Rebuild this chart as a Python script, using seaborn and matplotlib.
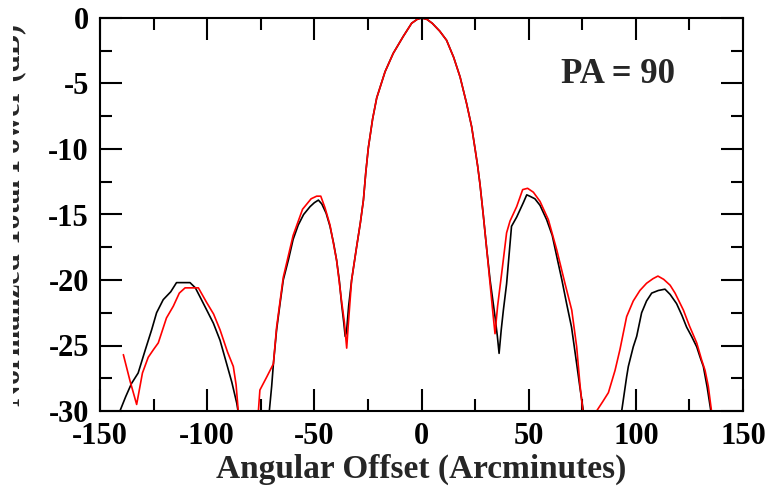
import matplotlib
matplotlib.use("Agg")
import matplotlib.pyplot as plt
import numpy as np
import pandas as pd
import seaborn as sns
from matplotlib.ticker import MultipleLocator
from matplotlib.transforms import Bbox, TransformedBbox

# black trace, three visible pieces (clipped at -30 dB in between)
black_left_x = [-140.7, -138.0, -135.3, -132.2, -129.0, -125.9, -123.6, -120.5, -117.0, -114.3, -111.0,
                -108.0, -105.5, -103.3, -100.5, -97.1, -94.0, -90.9, -88.5, -86.2, -85.6]
black_left_y = [-30.0, -28.9, -27.9, -27.1, -25.4, -23.8, -22.5, -21.5, -20.9, -20.2, -20.2,
                -20.2, -20.6, -21.3, -22.2, -23.3, -24.6, -26.4, -27.8, -29.4, -30.0]
black_mid_x = [-71.0, -69.9, -69.1, -67.6, -66.0, -64.5, -62.0, -59.9, -57.5, -55.0, -52.0, -50.0, -48.1,
               -46.5, -44.5, -42.7, -41.0, -39.6, -38.3, -37.3, -36.3, -35.6, -35.0, -34.0, -32.6, -30.3,
               -28.5, -27.1, -26.0, -24.8, -22.8, -20.9, -17.0, -13.2, -8.5, -4.6, -2.0, 0.0, 2.5, 5.0,
               8.5, 11.7, 15.0, 18.0, 21.0, 23.4, 25.0, 26.2, 27.3, 28.8, 30.4, 32.0, 34.3, 35.4, 36.2,
               37.2, 38.2, 39.7, 42.0, 44.4, 47.5, 49.1, 50.5, 52.9, 55.3, 58.4, 61.0, 63.1, 65.5, 67.7,
               70.0, 72.4, 74.0, 75.5]
black_mid_y = [-30.0, -28.1, -26.4, -23.8, -21.8, -20.0, -18.4, -16.9, -15.8, -15.0, -14.4, -14.1, -13.9,
               -14.2, -14.9, -15.9, -17.2, -18.5, -20.1, -21.8, -23.2, -24.3, -24.0, -22.0, -20.0, -17.5,
               -15.6, -13.9, -11.8, -9.9, -7.7, -6.1, -4.1, -2.7, -1.4, -0.4, -0.1, 0.0, -0.1, -0.4,
               -1.0, -1.7, -3.0, -4.5, -6.5, -8.3, -10.0, -11.3, -12.7, -15.0, -17.6, -20.0, -22.8, -24.3,
               -25.6, -23.8, -22.3, -20.3, -15.9, -15.2, -14.1, -13.5, -13.6, -13.8, -14.3, -15.4, -16.6,
               -18.2, -20.0, -21.8, -23.6, -26.4, -28.3, -30.0]
black_right_x = [93.4, 95.7, 96.5, 98.8, 100.4, 102.7, 105.0, 107.4, 110.5, 113.6, 116.0, 119.0, 121.5,
                 123.7, 126.0, 128.4, 130.0, 131.5, 133.3, 135.0]
black_right_y = [-30.0, -27.4, -26.6, -25.1, -24.3, -22.5, -21.6, -21.0, -20.8, -20.7, -21.1, -21.8, -22.7,
                 -23.6, -24.3, -25.1, -25.9, -26.6, -28.2, -30.0]

# red trace
red_left_x = [-139.1, -136.0, -132.9, -130.2, -127.5, -125.0, -122.8, -119.0, -115.8, -113.0, -110.3,
              -107.2, -104.1, -100.3, -97.0, -94.0, -90.5, -87.8, -86.5, -85.5]
red_left_y = [-25.7, -27.7, -29.5, -27.1, -25.9, -25.3, -24.8, -22.9, -22.0, -21.0, -20.6,
              -20.6, -20.6, -21.7, -22.6, -23.8, -25.5, -26.6, -28.0, -30.0]
red_mid_x = [-76.1, -75.4, -72.2, -69.1, -67.6, -64.5, -59.9, -55.5, -51.5, -48.9, -47.0, -45.0, -42.7,
             -39.6, -37.3, -36.0, -34.9, -34.2, -32.6, -30.3, -28.5, -27.1, -26.0, -24.8, -22.8, -20.9,
             -17.0, -13.2, -8.5, -4.6, -2.0, 0.0, 2.5, 5.0, 8.5, 11.7, 15.0, 18.0, 21.0, 23.4, 25.0,
             26.2, 27.3, 28.8, 30.4, 32.0, 33.3, 34.3, 35.5, 37.4, 39.7, 41.3, 44.4, 47.2, 49.5, 52.2,
             55.3, 59.2, 63.1, 67.0, 70.1, 72.4, 74.0, 75.3]
red_mid_y = [-30.0, -28.4, -27.4, -26.4, -23.6, -19.8, -16.6, -14.6, -13.8, -13.6, -13.6, -14.5, -15.8,
             -18.5, -21.6, -23.2, -25.2, -23.5, -20.0, -17.5, -15.6, -13.9, -11.8, -9.9, -7.7, -6.1,
             -4.1, -2.7, -1.4, -0.4, -0.1, 0.0, -0.1, -0.4, -1.0, -1.7, -3.0, -4.5, -6.5, -8.3, -10.0,
             -11.3, -12.7, -15.0, -17.6, -20.3, -22.5, -24.1, -22.0, -19.5, -16.4, -15.5, -14.4, -13.1,
             -13.0, -13.3, -14.0, -15.4, -17.7, -20.3, -22.3, -25.1, -28.1, -30.0]
red_right_x = [81.7, 84.5, 87.2, 90.3, 92.6, 95.7, 98.8, 101.9, 105.0, 108.0, 110.3, 113.0, 116.0, 118.3,
               122.2, 125.0, 128.4, 130.7, 132.3, 133.8, 135.3]
red_right_y = [-30.0, -29.3, -28.6, -26.9, -25.3, -22.8, -21.6, -20.8, -20.25, -19.9, -19.7, -19.95, -20.4,
               -21.0, -22.3, -23.5, -24.8, -26.1, -26.9, -28.1, -30.0]

pieces = [
    ("black", "b0", black_left_x, black_left_y),
    ("black", "b1", black_mid_x, black_mid_y),
    ("black", "b2", black_right_x, black_right_y),
    ("red", "r0", red_left_x, red_left_y),
    ("red", "r1", red_mid_x, red_mid_y),
    ("red", "r2", red_right_x, red_right_y),
]
df = pd.concat([pd.DataFrame({"offset": x, "power": y, "trace": name, "piece": seg})
                for name, seg, x, y in pieces], ignore_index=True)

sns.set_style("ticks")
plt.rcParams["font.family"] = ["Liberation Serif", "DejaVu Serif"]
plt.rcParams["font.weight"] = "bold"
plt.rcParams["axes.unicode_minus"] = False

fig = plt.figure(figsize=(7.73, 4.91), dpi=100)
ax = fig.add_axes([100 / 773, 80 / 491, 643 / 773, 393 / 491])

sns.lineplot(data=df, x="offset", y="power", hue="trace", units="piece", estimator=None,
             palette={"black": "#000000", "red": "#ff0000"}, linewidth=1.2, sort=False,
             legend=False, ax=ax)

ax.set_xlim(-150, 150)
ax.set_ylim(-30, 0)
ax.xaxis.set_major_locator(MultipleLocator(50))
ax.xaxis.set_minor_locator(MultipleLocator(25))
ax.yaxis.set_major_locator(MultipleLocator(5))
ax.yaxis.set_minor_locator(MultipleLocator(2.5))
ax.tick_params(which="both", direction="in", top=True, right=True, width=1.5, colors="black")
ax.tick_params(which="major", length=16, labelsize=22, pad=8)
ax.tick_params(which="minor", length=8.5)
for sp in ax.spines.values():
    sp.set_linewidth(1.5)
    sp.set_color("black")

ax.set_xlabel("Angular Offset (Arcminutes)", fontsize=24, fontweight="bold", labelpad=2)
ax.set_ylabel("Normalized Total Power (dB)", fontsize=22, fontweight="bold")
ax.yaxis.set_label_coords(-0.115, 0.5)
# the reference only shows the right-hand strip of the y label
lab = ax.yaxis.label
lab.set_clip_on(True)
lab.set_clip_box(TransformedBbox(Bbox([[13 / 773, 0], [1, 1]]), fig.transFigure))

ax.text(0.806, 0.855, "PA = 90", transform=ax.transAxes, ha="center", va="center",
        fontsize=25, fontweight="bold")

fig.savefig("out.png", dpi=100)
